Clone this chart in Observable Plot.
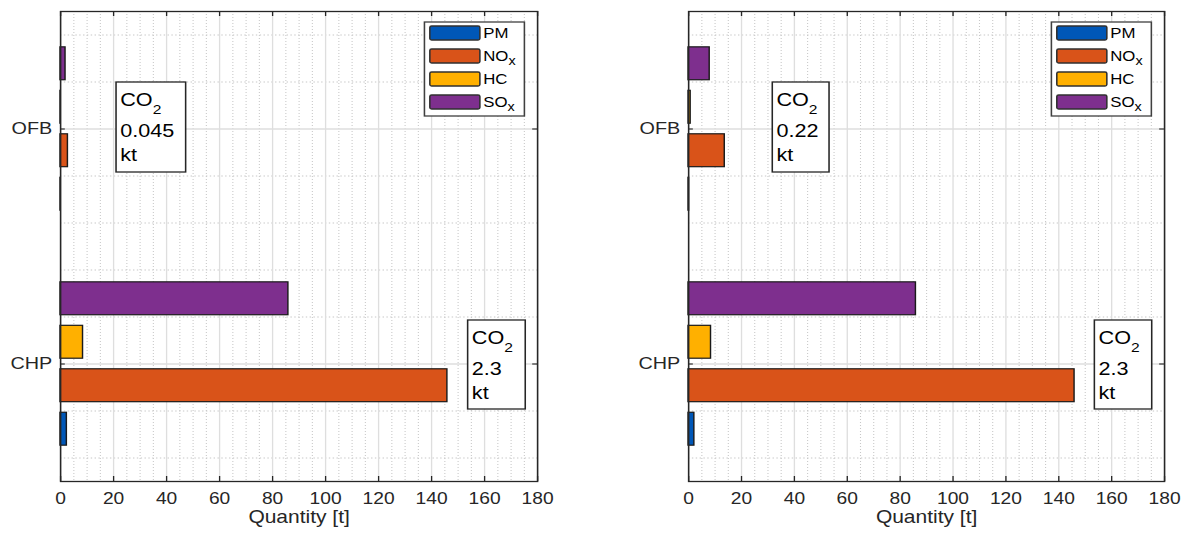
<!DOCTYPE html>
<html><head><meta charset="utf-8">
<script src="https://cdn.jsdelivr.net/npm/d3@7"></script>
<script src="https://cdn.jsdelivr.net/npm/@observablehq/plot@0.6"></script>
<style>
body{margin:0;background:#fff;}
#wrap{position:relative;width:1186px;height:534px;overflow:hidden;background:#fff;}
.panel{position:absolute;top:0;width:494px;height:534px;transform:scaleX(1.2);transform-origin:0 0;}
.panel svg{display:block;}
</style></head><body><div id="wrap"></div>
<script>
// ---- data ----
const categories = ["CHP", "OFB"];            // y positions 1, 2
const pollutants = ["PM", "NOx", "HC", "SOx"];
const legendMain = ["PM", "NO", "HC", "SO"];
const legendSub = ["", "x", "", "x"];
const colors = ["#0057b7", "#d95319", "#ffb000", "#7e2f8e"];
const leftCHP = [2.4, 146, 8.5, 86];
const leftOFB = [0.05, 2.8, 0.1, 1.9];
const rightCHP = [2.2, 146, 8.5, 86];
const rightOFB = [0.2, 13.7, 0.8, 8];
const co2Left = ["0.045", "2.3"];   // OFB, CHP
const co2Right = ["0.22", "2.3"];
const co2Unit = "kt";
const xTicks = [0, 20, 40, 60, 80, 100, 120, 140, 160, 180];
const xMinor = d3.range(5, 180, 5).filter(v => v % 20 !== 0);
const yMinor = [0.6, 0.8, 1.2, 1.4, 1.6, 1.8, 2.2, 2.4];
const xLabel = "Quantity [t]";

const W = 494, H = 534, MT = 11, MB = 53;
const plotH = H - MT - MB;
const font = "'Liberation Sans', Arial, Helvetica, sans-serif";

function rowsFor(chp, ofb) {
  const rows = [];
  [[1, chp], [2, ofb]].forEach(([c, vals]) => {
    vals.forEach((v, i) => rows.push({cat: c, pollutant: pollutants[i], i, value: v}));
  });
  return rows;
}

function panel(left, ml, mr, chp, ofb, co2, boxes) {
  const plotW = W - ml - mr;
  const rows = rowsFor(chp, ofb);
  const step = 0.185, half = 0.07;
  const chart = Plot.plot({
    width: W, height: H, marginTop: MT, marginBottom: MB, marginLeft: ml, marginRight: mr,
    style: {fontFamily: font, fontSize: "16px", color: "#262626", background: "white", overflow: "visible"},
    x: {domain: [0, 180]},
    y: {domain: [0.5, 2.5]},
    color: {domain: pollutants, range: colors},
    marks: [
      Plot.ruleX(xMinor, {stroke: "#c8c8c8", strokeDasharray: "1,2", strokeWidth: 0.9}),
      Plot.ruleY(yMinor, {stroke: "#c8c8c8", strokeDasharray: "1.2,2", strokeWidth: 1}),
      Plot.ruleX(xTicks, {stroke: "#dedede", strokeWidth: 1.1}),
      Plot.ruleY([1, 2], {stroke: "#dedede", strokeWidth: 1.3}),
      Plot.rect(rows, {
        x1: d => 0, x2: "value",
        y1: d => d.cat + (d.i - 1.5) * step - half,
        y2: d => d.cat + (d.i - 1.5) * step + half,
        fill: "pollutant", stroke: "#1a1a1a", strokeWidth: 1.2
      }),
      Plot.frame({stroke: "#262626", strokeWidth: 1.3}),
      Plot.ruleX(xTicks, {stroke: "#262626", strokeWidth: 1.1, insetTop: plotH - 5}),
      Plot.ruleX(xTicks, {stroke: "#262626", strokeWidth: 1.1, insetBottom: plotH - 5}),
      Plot.ruleY([1, 2], {stroke: "#262626", strokeWidth: 1.1, insetRight: plotW - 4}),
      Plot.ruleY([1, 2], {stroke: "#262626", strokeWidth: 1.1, insetLeft: plotW - 4}),
      Plot.axisX({ticks: xTicks, tickSize: 0, tickPadding: 11, label: null, fontSize: 16}),
      Plot.axisY({ticks: [1, 2], tickFormat: d => categories[d - 1], tickSize: 0, tickPadding: 7, label: null, fontSize: 16.5}),
      Plot.text([xLabel], {frameAnchor: "bottom", dy: 41, fontSize: 17.5})
    ]
  });
  const svg = d3.select(chart);
  // CO2 annotation boxes
  boxes.forEach((b, k) => {
    const g = svg.append("g").attr("font-family", font).attr("fill", "#000").attr("text-anchor", "start");
    g.append("rect").attr("x", b.x).attr("y", b.y).attr("width", b.w).attr("height", b.h)
      .attr("fill", "#fff").attr("stroke", "#262626").attr("stroke-width", 1.3);
    const t1 = g.append("text").attr("x", b.x + 3.5).attr("y", b.y + 24).attr("font-size", 18);
    t1.append("tspan").text("CO");
    t1.append("tspan").attr("dy", 8).attr("font-size", 13).text("2");
    g.append("text").attr("x", b.x + 3.5).attr("y", b.y + 55).attr("font-size", 18).text(co2[k]);
    g.append("text").attr("x", b.x + 3.5).attr("y", b.y + 79).attr("font-size", 18).text(co2Unit);
  });
  // legend
  const lw = 83.3, lx = ml + plotW - 10.5 - lw, ly = 22;
  const lg = svg.append("g").attr("font-family", font).attr("text-anchor", "start");
  lg.append("rect").attr("x", lx).attr("y", ly).attr("width", lw).attr("height", 94)
    .attr("fill", "#fff").attr("stroke", "#404040").attr("stroke-width", 1.3);
  pollutants.forEach((p, i) => {
    const cy = 33 + 23 * i;
    lg.append("rect").attr("x", lx + 4.5).attr("y", cy - 7).attr("width", 41.7).attr("height", 14)
      .attr("rx", 1.5).attr("fill", colors[i]).attr("stroke", "#303030").attr("stroke-width", 1.3);
    const t = lg.append("text").attr("x", lx + 49).attr("y", cy + 5).attr("font-size", 14).attr("fill", "#000");
    t.append("tspan").text(legendMain[i]);
    if (legendSub[i]) t.append("tspan").attr("dy", 4).attr("font-size", 12).text(legendSub[i]);
  });
  const div = document.createElement("div");
  div.className = "panel";
  div.style.left = left + "px";
  div.appendChild(chart);
  document.getElementById("wrap").appendChild(div);
}

panel(0, 50, 46.5, leftCHP, leftOFB, co2Left, [
  {x: 96.7, y: 82, w: 58, h: 90},
  {x: 389.7, y: 320, w: 48, h: 89}
]);
panel(593, 79.2, 18.2, rightCHP, rightOFB, co2Right, [
  {x: 149.4, y: 82, w: 47.3, h: 90},
  {x: 417.8, y: 320, w: 47.8, h: 89}
]);
</script>
</body></html>
